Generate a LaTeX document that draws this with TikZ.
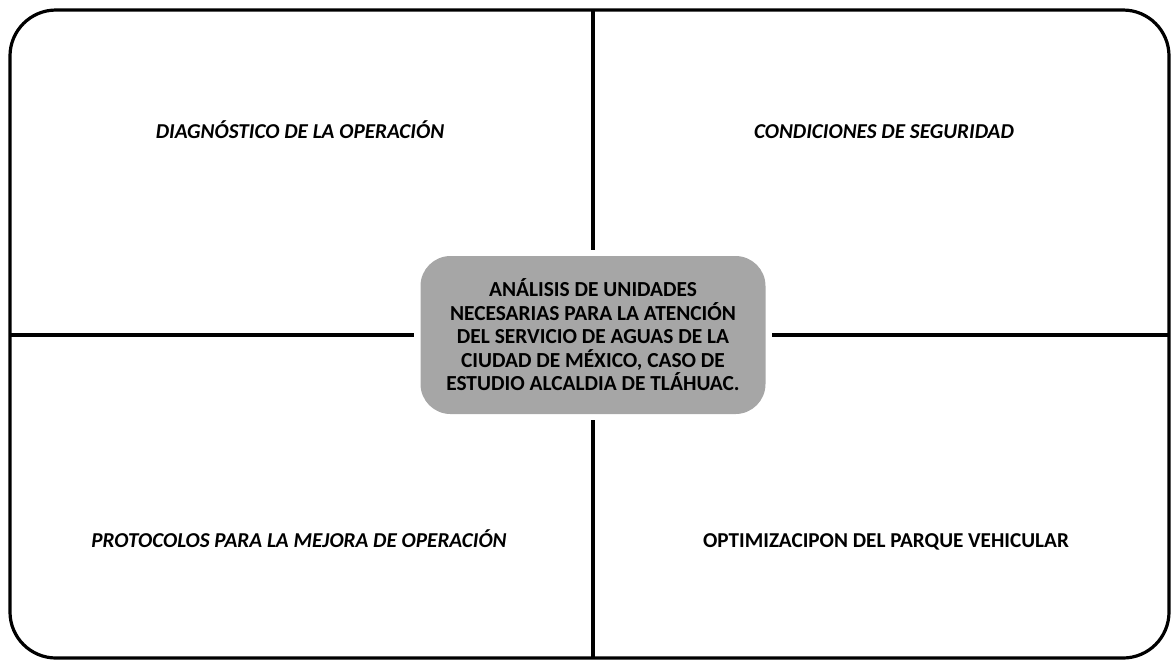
\documentclass[tikz,border=0pt]{standalone}
\usepackage{fontspec}
\setmainfont{Carlito}
\definecolor{grisc}{RGB}{166,166,166}
\begin{document}
\begin{tikzpicture}[x=0.5pt, y=-0.5pt]
        \tikzset{
        marco/.style={line width=1.6pt, rounded corners=23pt},
        division/.style={line width=1.6pt, shorten >=3pt},
        tema/.style={font=\fontsize{10.6}{12}\selectfont\bfseries, anchor=base, inner sep=0},
        tema it/.style={tema, font=\fontsize{10.6}{12}\selectfont\bfseries\itshape},
        centro box/.style={fill=grisc, rounded corners=15pt, minimum width=172.5pt, minimum height=79pt, align=center, inner sep=0, font=\fontsize{10.7}{11.75}\selectfont\bfseries}
        }
        \useasboundingbox (0,0) rectangle (1172,661);
        \draw[marco] (10,10) rectangle (1169,658);

        \node[centro box] (centro) at (593,335) {AN\'ALISIS DE UNIDADES\\NECESARIAS PARA LA ATENCI\'ON\\DEL SERVICIO DE AGUAS DE LA\\CIUDAD DE M\'EXICO, CASO DE\\ESTUDIO ALCALDIA DE TL\'AHUAC.};
        \coordinate (arriba) at (593,10);
        \coordinate (abajo) at (593,658);
        \coordinate (izq) at (10,335);
        \coordinate (der) at (1169,335);

        \node[tema it] (diag) at (300,138) {DIAGN\'OSTICO DE LA OPERACI\'ON};
        \node[tema it] (cond) at (884,138) {CONDICIONES DE SEGURIDAD};
        \node[tema it] (prot) at (299,547) {PROTOCOLOS PARA LA MEJORA DE OPERACI\'ON};
        \node[tema] (opti) at (886,547) {OPTIMIZACIPON DEL PARQUE VEHICULAR};

        \path[-,draw]
        (arriba) edge[division] (centro)
        (abajo) edge[division] (centro)
        (izq) edge[division] (centro)
        (der) edge[division] (centro)
        ;
    \end{tikzpicture}
\end{document}
